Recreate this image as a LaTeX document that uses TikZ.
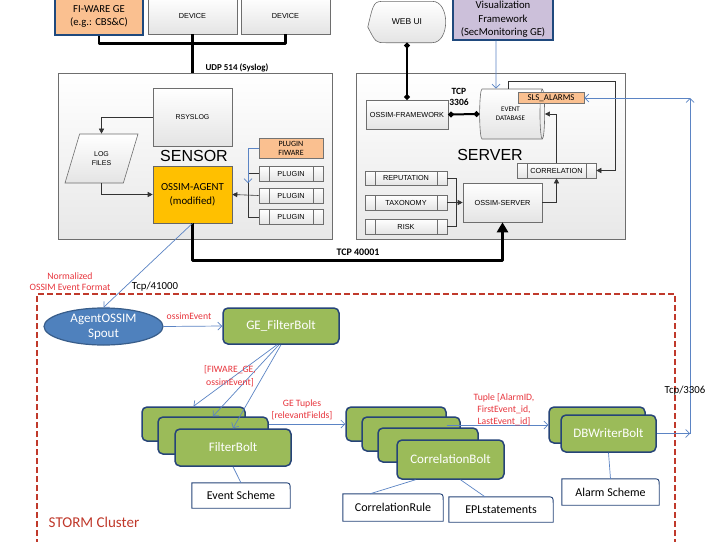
\documentclass[tikz,border=0pt]{standalone}
\usepackage{fontspec}
\setmainfont{Carlito}
\newfontfamily\visfont{Liberation Sans}
\usepackage{tikz}
\usetikzlibrary{arrows.meta, shapes.geometric, backgrounds}
\definecolor{visEdge}{HTML}{6E6E6E}
\definecolor{visShade}{HTML}{E4E4E4}
\definecolor{orangeFill}{HTML}{FAC090}
\definecolor{agentGold}{HTML}{FFC000}
\definecolor{lavender}{HTML}{CCC0DA}
\definecolor{navyEdge}{HTML}{1F497D}
\definecolor{boltGreen}{HTML}{9BBB59}
\definecolor{boltEdge}{HTML}{264478}
\definecolor{spoutBlue}{HTML}{4F81BD}
\definecolor{spoutEdge}{HTML}{385D8A}
\definecolor{linkBlue}{HTML}{5B84C4}
\definecolor{lblRed}{HTML}{E8353D}
\definecolor{stormRed}{HTML}{C0392B}

% frame with one rounded corner (top right) for the scheme boxes
\newcommand{\schemeframe}[1]{%
  \draw[schemeline] (#1.south west) -- (#1.north west) -- ([xshift=-7pt]#1.north east)
    .. controls (#1.north east) .. ([yshift=-7pt]#1.north east) -- (#1.south east) -- cycle;}

\begin{document}
\begin{tikzpicture}[
  x=1pt, y=-1pt,
  font=\fontsize{10}{12}\selectfont,
  visbox/.style={draw=visEdge, top color=white, bottom color=visShade, line width=0.6pt, inner sep=1pt, align=center, font=\visfont\fontsize{7.3}{9}\selectfont},
  panel/.style={draw=visEdge, top color=white, bottom color=black!9, line width=0.7pt},
  procbox/.style={visbox, path picture={
      \draw[visEdge, line width=0.6pt] ([xshift=10pt]path picture bounding box.north west) -- ([xshift=10pt]path picture bounding box.south west)
        ([xshift=-10pt]path picture bounding box.north east) -- ([xshift=-10pt]path picture bounding box.south east);}},
  tagbox/.style={draw=black!55, fill=orangeFill, line width=0.6pt, inner sep=0.5pt, align=center},
  ge/.style={draw=navyEdge, line width=1.1pt, align=center, inner sep=1pt, font=\fontsize{10.7}{13.5}\selectfont},
  bolt/.style={draw=boltEdge, fill=boltGreen, rounded corners=5pt, line width=1.5pt, text=white, font=\fontsize{13}{15}\selectfont},
  scheme/.style={fill=white, inner sep=1pt, font=\fontsize{12}{14}\selectfont},
  schemeline/.style={draw=boltEdge, line width=0.9pt},
  biglabel/.style={font=\visfont\fontsize{16}{16}\selectfont},
  proto/.style={font=\bfseries\fontsize{9.5}{11}\selectfont, align=center},
  redlbl/.style={text=lblRed, align=center, font=\fontsize{9.7}{11.5}\selectfont},
  thickline/.style={line width=2.6pt, line join=round},
  bigarr/.style={thickline, -{Triangle[length=10pt, width=11pt]}},
  dotlink/.style={{Circle[length=5.5pt]}-{Circle[length=5.5pt]}, line width=2pt},
  sarr/.style={-{Triangle[length=5pt, width=5pt]}, line width=0.6pt, color=black!80},
  sline/.style={line width=0.6pt, color=black!80},
  barr/.style={-{Straight Barb[length=4pt, width=8pt]}, line width=0.7pt, color=linkBlue},
  bline/.style={line width=0.7pt, color=linkBlue}
]
\useasboundingbox (0,0) rectangle (728,541);
\begin{scope}[on background layer]
\fill[white] (0,0) rectangle (728,541);
\end{scope}

% ---------- SOURCES ----------
\node[ge, fill=orangeFill, minimum width=88pt, minimum height=37pt] (fiware) at (99,16.5) {FI-WARE GE\\(e.g.: CBS\&C)};
\node[visbox, minimum width=89pt, minimum height=37pt] (dev1) at (192.5,15.5) {DEVICE};
\node[visbox, minimum width=89pt, minimum height=37pt] (dev2) at (285.5,15.5) {DEVICE};

\draw[thickline] (fiware.south) -- ++(0,8) -| (dev2.south);
\draw[bigarr] (dev1.south) -- (192.5,88);
\node[proto, font=\bfseries\fontsize{9}{11}\selectfont] (udp) at (237,68) {UDP 514 (Syslog)};

% ---------- SENSOR ----------
\node[panel, minimum width=274pt, minimum height=166pt] (sensor) at (195,156) {};
\node[visbox, minimum width=79pt, minimum height=58pt, font=\visfont\fontsize{7}{9}\selectfont] (rsyslog) at (192.5,117) {RSYSLOG};
\node[biglabel] (senslbl) at (194,156) {SENSOR};
\node[visbox, trapezium, trapezium left angle=65, trapezium right angle=115, trapezium stretches=true,
      minimum width=73pt, minimum height=49pt, inner sep=0pt, font=\visfont\fontsize{7}{9}\selectfont] (logf) at (101.5,158.5) {LOG\\FILES};
\node[draw=black!60, fill=agentGold, line width=0.6pt, minimum width=79pt, minimum height=57pt, align=center,
      font=\fontsize{10.8}{14}\selectfont] (agent) at (192.5,194.5) {OSSIM-AGENT\\(modified)};

\node[tagbox, minimum width=64pt, minimum height=20pt, font=\fontsize{8}{9}\selectfont] (plugfw) at (291,148) {PLUGIN\\FIWARE};
\node[procbox, minimum width=64pt, minimum height=15pt] (plug1) at (291,173.5) {PLUGIN};
\node[procbox, minimum width=64pt, minimum height=15pt] (plug2) at (291,195.5) {PLUGIN};
\node[procbox, minimum width=64pt, minimum height=15pt] (plug3) at (291,217) {PLUGIN};
\coordinate (pbus) at (248,195.5);
\coordinate (fwtip) at (248,183);

\draw[sarr] (rsyslog.west) -| (logf.north);
\draw[sarr] (logf.south) |- (agent.west);
\draw[sline] (plug1.west) -| (pbus);
\draw[sline] (plug3.west) -| (pbus);
\draw[sarr] (plug2.west) -- (agent.east);
\draw[barr] (plugfw.west) -| (fwtip);

% ---------- SERVER ----------
\node[panel, minimum width=269pt, minimum height=166pt] (server) at (490.5,156) {};
\node[ge, fill=lavender, minimum width=100pt, minimum height=41pt] (visfw) at (503,19.5) {Visualization\\Framework\\(SecMonitoring GE)};
\node[minimum width=78pt, minimum height=41pt, font=\visfont\fontsize{8.5}{10}\selectfont] (webui) at (407,22) {WEB UI};
\begin{scope}[on background layer]
\draw[draw=visEdge, top color=white, bottom color=visShade, line width=0.6pt]
  ([yshift=-5pt]webui.west) .. controls ([xshift=6pt]webui.north west) .. ([xshift=18pt]webui.north west)
  -- ([xshift=-14pt]webui.north east) .. controls ([xshift=4pt]webui.north east) and ([xshift=4pt]webui.south east) .. ([xshift=-14pt]webui.south east)
  -- ([xshift=18pt]webui.south west) .. controls ([xshift=8pt]webui.south west) .. ([yshift=-5pt]webui.west) -- cycle;
\end{scope}

\node[visbox, minimum width=82pt, minimum height=29pt] (ossimfw) at (407,114.5) {OSSIM-FRAMEWORK};
\node[cylinder, shape border rotate=0, aspect=0.3, draw=visEdge, top color=white, bottom color=visShade, line width=0.6pt,
      minimum width=50pt, minimum height=65pt, inner sep=1pt, align=center, font=\fontsize{7}{9}\selectfont] (evdb) at (510.5,114) {EVENT\\DATABASE};
\node[tagbox, minimum width=66pt, minimum height=10.5pt, font=\fontsize{8.9}{9}\selectfont] (sls) at (551,98) {SLS\_ALARMS};
\node[biglabel] (servlbl) at (490,155) {SERVER};
\node[procbox, minimum width=79pt, minimum height=15pt] (corr) at (556.5,170.5) {CORRELATION};
\node[procbox, minimum width=82pt, minimum height=14pt] (rep) at (406,178) {REPUTATION};
\node[procbox, minimum width=82pt, minimum height=15pt] (tax) at (406,202.5) {TAXONOMY};
\node[procbox, minimum width=82pt, minimum height=15pt] (risk) at (406,226.5) {RISK};
\node[visbox, minimum width=79pt, minimum height=39pt] (osrv) at (502.5,202.5) {OSSIM-SERVER};
\coordinate (sbus) at (456,202.5);
\coordinate (dbloop) at (615,81);

\draw[dotlink] (webui.south) -- (ossimfw.north);
\draw[dotlink] (ossimfw.east) -- (evdb.west);
\node[proto] (tcpdb) at (459,97) {TCP\\3306};
\draw[barr] ([xshift=-7pt]visfw.south) -- ([xshift=-14.5pt]evdb.north);
\draw[sarr] ([xshift=-2pt]evdb.north) |- (dbloop) |- (corr.east);
\draw[sarr] (corr.north) |- (evdb.east);
\draw[sline] (rep.east) -| (sbus);
\draw[sline] (risk.east) -| (sbus);
\draw[sarr] (tax.east) -- (osrv.west);
\draw[sarr] (osrv.east) -| (corr.south);

% Agent -> Server (TCP 40001)
\draw[bigarr] (agent.south) -- ++(0,37) -| (osrv.south);
\node[proto, font=\bfseries\fontsize{10}{12}\selectfont] (tcpsrv) at (358,252) {TCP 40001};

% ---------- STORM CLUSTER ----------
\draw[stormRed, line width=1.4pt, dash pattern=on 6pt off 3pt] (37,545) -- (37,294) -- (675,294) -- (675,545);
\node[text=stormRed, font=\fontsize{15}{17}\selectfont] (stormlbl) at (94,522) {STORM Cluster};

\node[ellipse, draw=spoutEdge, fill=spoutBlue, line width=1.2pt, minimum width=119pt, minimum height=37pt, inner sep=0pt,
      text=white, align=center, font=\fontsize{13}{15}\selectfont] (spout) at (103.5,326.5) {AgentOSSIM\\Spout};
\node[bolt, minimum width=116pt, minimum height=36pt] (gefb) at (281,326) {GE\_FilterBolt};

\draw[barr] (agent.south) -- (spout.north);
\node[redlbl] (normlbl) at (70,281.5) {Normalized\\OSSIM Event Format};
\node (tcpin) at (155,287) {\fontsize{10.8}{12}\selectfont Tcp/41000};
\draw[barr] (spout.east) -- (gefb.west);
\node[redlbl] (evlbl) at (189,316) {ossimEvent};

% filter bolts
\node[bolt, minimum width=103pt, minimum height=34pt] (fb1) at (193.5,424) {};
\node[bolt, minimum width=110pt, minimum height=37pt] (fb2) at (213,435.5) {};
\node[bolt, minimum width=116pt, minimum height=37pt] (fb3) at (233,447.5) {FilterBolt};
\draw[barr] ([xshift=-4pt]gefb.south) -- (fb1.north);
\draw[barr] ([xshift=-2pt]gefb.south) -- (fb2.north);
\draw[barr] (gefb.south) -- (fb3.north);
\node[redlbl, font=\fontsize{9.7}{13}\selectfont] (fwlbl) at (230,376.5) {{[FIWARE\_GE,}\\{ossimEvent]}};

\node[scheme, minimum width=98pt, minimum height=25pt] (evsch) at (241,495.5) {Event Scheme};
\schemeframe{evsch}
\draw[bline] (fb3.south) -- (evsch.north);

% correlation bolts
\node[bolt, minimum width=100pt, minimum height=34pt] (cb1) at (396,424) {};
\node[bolt, minimum width=98pt, minimum height=34pt] (cb2) at (411,434) {};
\node[bolt, minimum width=100pt, minimum height=34pt] (cb3) at (428,445) {};
\node[bolt, minimum width=107pt, minimum height=39pt] (cb4) at (450.5,459.5) {CorrelationBolt};
\draw[barr] (fb2.east |- cb1.west) -- (cb1.west);
\node[redlbl] (tuplbl) at (302,410) {GE Tuples\\{[relevantFields]}};

\node[scheme, minimum width=100pt, minimum height=27pt] (crule) at (393,507.5) {CorrelationRule};
\schemeframe{crule}
\node[scheme, minimum width=104pt, minimum height=25pt] (epl) at (501,509.5) {EPLstatements};
\schemeframe{epl}
\draw[bline] ([xshift=-35pt]cb4.south) -- ([xshift=-23pt]crule.north);
\draw[bline] ([xshift=10pt]cb4.south) -- ([xshift=-16pt]epl.north);

% db writer bolts
\node[bolt, minimum width=96pt, minimum height=36pt] (dbw1) at (597,425) {};
\node[bolt, minimum width=95pt, minimum height=37pt] (dbw2) at (608.5,433.5) {DBWriterBolt};
\draw[barr] (cb1.east |- dbw1.west) -- (dbw1.west);
\node[redlbl, font=\fontsize{9.7}{12}\selectfont] (alarmlbl) at (504,410) {Tuple [AlarmID,\\FirstEvent\_id,\\LastEvent\_id]};

\node[scheme, minimum width=97pt, minimum height=26pt] (alsch) at (610.5,492) {Alarm Scheme};
\schemeframe{alsch}
\draw[bline] (dbw2.south) -- (alsch.north);

% ---------- BACK TO THE EVENT DATABASE ----------
\coordinate (up1) at (690,433.5);
\coordinate (up2) at (690,98);
\draw[barr] (dbw2.east) -- (up1);
\draw[barr] (up1) -- (up2);
\draw[barr] (up2) -- (sls.east);
\node (tcpout) at (685,391) {\fontsize{10.8}{12}\selectfont Tcp/3306};

\end{tikzpicture}
\end{document}
